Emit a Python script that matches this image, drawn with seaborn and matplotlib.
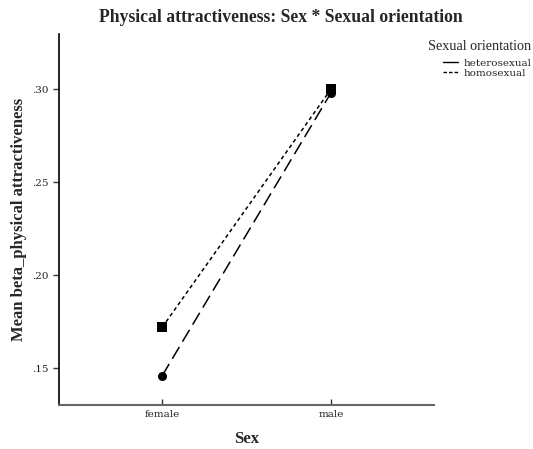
import matplotlib
matplotlib.use("Agg")
import matplotlib.pyplot as plt
from matplotlib.lines import Line2D
import seaborn as sns
import pandas as pd

sex = ["female", "male"]
orientation = ["heterosexual", "homosexual"]
hetero_means = [0.146, 0.298]
homo_means = [0.172, 0.300]
yticks = [0.15, 0.20, 0.25, 0.30]
ytick_labels = [".15", ".20", ".25", ".30"]

rows = []
for i, s in enumerate(sex):
    rows.append({"x": i, "Sex": s, "orientation": "heterosexual", "mean": hetero_means[i]})
    rows.append({"x": i, "Sex": s, "orientation": "homosexual", "mean": homo_means[i]})
df = pd.DataFrame(rows)

sns.set_style("white")
plt.rcParams["font.family"] = ["Liberation Serif", "DejaVu Serif"]

fig = plt.figure(figsize=(5.33, 4.49), dpi=100)
ax = fig.add_axes([59/533, 1 - 405/449, (434-59)/533, (405-34)/449])

sns.lineplot(data=df, x="x", y="mean", hue="orientation", style="orientation",
             palette={"heterosexual": "black", "homosexual": "black"},
             dashes={"heterosexual": (9, 4), "homosexual": (2.5, 2)},
             markers={"heterosexual": "o", "homosexual": "s"},
             markersize=6.5, markeredgewidth=0, linewidth=1.1, ax=ax, legend=False)

ax.set_xlim(-0.611, 1.611)
ax.set_ylim(0.1303, 0.3297)
ax.set_xticks([0, 1])
ax.set_xticklabels(sex)
ax.set_yticks(yticks)
ax.set_yticklabels(ytick_labels)
for lab in ax.get_xticklabels() + ax.get_yticklabels():
    lab.set_family(["DejaVu Serif"])
    lab.set_fontsize(7.5)
ax.tick_params(axis="both", which="major", length=4, width=1, color="#333333",
               bottom=True, left=True, labelcolor="#222222")
ax.tick_params(axis="x", direction="in", length=4)
for sp in ["top", "right"]:
    ax.spines[sp].set_visible(False)
ax.spines["left"].set_color("black")
ax.spines["left"].set_linewidth(1.2)
ax.spines["bottom"].set_color("#666666")
ax.spines["bottom"].set_linewidth(1.5)

ax.set_xlabel("Sex", fontsize=12, fontweight="bold", labelpad=9)
ax.set_ylabel("Mean beta_physical attractiveness", fontsize=12, fontweight="bold", labelpad=4)
fig.text(0.527, 0.962, "Physical attractiveness: Sex * Sexual orientation",
         ha="center", va="center", fontsize=12.7, fontweight="bold")

handles = [Line2D([], [], color="black", linestyle="-", linewidth=1),
           Line2D([], [], color="black", linestyle=(0, (2.5, 1.5)), linewidth=1)]
leg = fig.legend(handles, orientation, title="Sexual orientation",
                 loc="upper left", bbox_to_anchor=(421/533, 1 - 33/449),
                 frameon=False, prop={"family": "DejaVu Serif", "size": 7.5},
                 title_fontproperties={"family": "Liberation Serif", "size": 10.2},
                 handlelength=1.5, handletextpad=0.5, labelspacing=0.05,
                 borderpad=0.2)
leg._legend_box.align = "right"
leg._legend_box.sep = 4

fig.savefig("out.png", dpi=100)
